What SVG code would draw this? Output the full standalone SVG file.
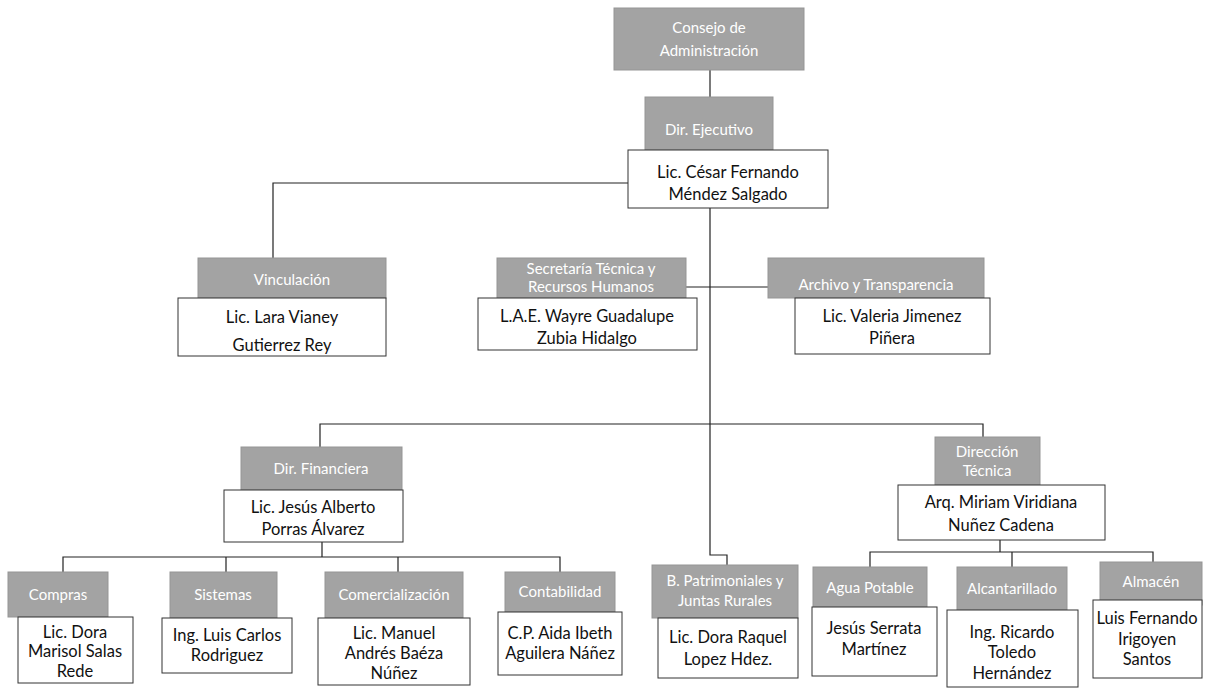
<svg xmlns="http://www.w3.org/2000/svg" width="1208" height="688" viewBox="0 0 1208 688">
<style>
.g{fill:#a3a3a3;stroke:#959595;stroke-width:1}
.w{fill:#fff;stroke:#333;stroke-width:1}
.gt{font-family:Lato,"Liberation Sans",sans-serif;fill:#fff;text-anchor:middle;font-size:15px}
.wt{font-family:Lato,"Liberation Sans",sans-serif;fill:#111;text-anchor:middle;font-size:16.5px}
.c{fill:none;stroke:#222;stroke-width:1.2}
</style>
<rect width="1208" height="688" fill="#fff"/>
<g id="connectors">
<path class="c" d="M710,70 V97"/>
<path class="c" d="M628,183 H273 V258"/>
<path class="c" d="M710,208 V555 H727 V565"/>
<path class="c" d="M686,287 H768"/>
<path class="c" d="M320,447 V424 H983 V437"/>
<path class="c" d="M322,542 V557 M63,572 V557 H560 V572 M226,557 V572 M398,557 V572"/>
<path class="c" d="M1000,540 V552 M870,567 V552 H1153 V562 M1012,552 V567"/>
</g>
<g id="consejo">
<rect class="g" x="614" y="8" width="190" height="62"/>
<text class="gt" x="709" y="33" font-size="17">Consejo de</text>
<text class="gt" x="709" y="56" font-size="17">Administración</text>
</g>
<g id="dir-ejecutivo">
<rect class="g" x="645" y="97" width="128" height="53"/>
<text class="gt" x="709" y="135">Dir. Ejecutivo</text>
<rect class="w" x="628" y="150" width="200" height="58"/>
<text class="wt" x="728" y="178" font-size="16">Lic. César Fernando</text>
<text class="wt" x="728" y="200" font-size="16">Méndez Salgado</text>
</g>
<g id="vinculacion">
<rect class="g" x="198" y="258" width="188" height="40"/>
<text class="gt" x="292" y="285" font-size="18">Vinculación</text>
<rect class="w" x="178" y="298" width="208" height="58"/>
<text class="wt" x="282" y="323" font-size="18.5">Lic. Lara Vianey</text>
<text class="wt" x="282" y="351" font-size="18.5">Gutierrez Rey</text>
</g>
<g id="secretaria">
<rect class="g" x="497" y="258" width="189" height="40"/>
<text class="gt" x="591" y="274" font-size="14">Secretaría Técnica y</text>
<text class="gt" x="591" y="292" font-size="14">Recursos Humanos</text>
<rect class="w" x="478" y="298" width="219" height="52"/>
<text class="wt" x="587" y="322" font-size="18.5">L.A.E. Wayre Guadalupe</text>
<text class="wt" x="587" y="344" font-size="18.5">Zubia Hidalgo</text>
</g>
<g id="archivo">
<rect class="g" x="768" y="258" width="216" height="40"/>
<text class="gt" x="876" y="290">Archivo y Transparencia</text>
<rect class="w" x="795" y="298" width="195" height="56"/>
<text class="wt" x="892" y="322" font-size="17">Lic. Valeria Jimenez</text>
<text class="wt" x="892" y="344" font-size="17">Piñera</text>
</g>
<g id="dir-financiera">
<rect class="g" x="241" y="447" width="161" height="43"/>
<text class="gt" x="321" y="474">Dir. Financiera</text>
<rect class="w" x="224" y="490" width="179" height="52"/>
<text class="wt" x="313" y="513" font-size="18">Lic. Jesús Alberto</text>
<text class="wt" x="313" y="535" font-size="18">Porras Álvarez</text>
</g>
<g id="dir-tecnica">
<rect class="g" x="935" y="437" width="105" height="48"/>
<text class="gt" x="987" y="457" font-size="13">Dirección</text>
<text class="gt" x="987" y="476" font-size="13">Técnica</text>
<rect class="w" x="898" y="485" width="207" height="55"/>
<text class="wt" x="1001" y="508" font-size="18">Arq. Miriam Viridiana</text>
<text class="wt" x="1001" y="531" font-size="18">Nuñez Cadena</text>
</g>
<g id="compras">
<rect class="g" x="8" y="572" width="100" height="45"/>
<text class="gt" x="58" y="600">Compras</text>
<rect class="w" x="18" y="617" width="115" height="66"/>
<text class="wt" x="75" y="638">Lic. Dora</text>
<text class="wt" x="75" y="657">Marisol Salas</text>
<text class="wt" x="75" y="677">Rede</text>
</g>
<g id="sistemas">
<rect class="g" x="170" y="572" width="107" height="46"/>
<text class="gt" x="223" y="600">Sistemas</text>
<rect class="w" x="162" y="618" width="130" height="55"/>
<text class="wt" x="227" y="641">Ing. Luis Carlos</text>
<text class="wt" x="227" y="661">Rodriguez</text>
</g>
<g id="comercializacion">
<rect class="g" x="325" y="572" width="138" height="46"/>
<text class="gt" x="394" y="600">Comercialización</text>
<rect class="w" x="318" y="618" width="152" height="67"/>
<text class="wt" x="394" y="639">Lic. Manuel</text>
<text class="wt" x="394" y="659">Andrés Baéza</text>
<text class="wt" x="394" y="679">Núñez</text>
</g>
<g id="contabilidad">
<rect class="g" x="505" y="572" width="110" height="40"/>
<text class="gt" x="560" y="597" font-size="14">Contabilidad</text>
<rect class="w" x="498" y="612" width="124" height="63"/>
<text class="wt" x="560" y="639">C.P. Aida Ibeth</text>
<text class="wt" x="560" y="659">Aguilera Náñez</text>
</g>
<g id="patrimoniales">
<rect class="g" x="652" y="565" width="146" height="53"/>
<text class="gt" x="725" y="586" font-size="14">B. Patrimoniales y</text>
<text class="gt" x="725" y="606" font-size="14">Juntas Rurales</text>
<rect class="w" x="658" y="618" width="140" height="60"/>
<text class="wt" x="728" y="643">Lic. Dora Raquel</text>
<text class="wt" x="728" y="665">Lopez Hdez.</text>
</g>
<g id="agua">
<rect class="g" x="813" y="567" width="114" height="41"/>
<text class="gt" x="870" y="593" font-size="14">Agua Potable</text>
<rect class="w" x="812" y="607" width="125" height="69"/>
<text class="wt" x="874" y="634">Jesús Serrata</text>
<text class="wt" x="874" y="655">Martínez</text>
</g>
<g id="alcantarillado">
<rect class="g" x="957" y="567" width="110" height="43"/>
<text class="gt" x="1012" y="594" font-size="14">Alcantarillado</text>
<rect class="w" x="947" y="610" width="131" height="77"/>
<text class="wt" x="1012" y="638">Ing. Ricardo</text>
<text class="wt" x="1012" y="658">Toledo</text>
<text class="wt" x="1012" y="679">Hernández</text>
</g>
<g id="almacen">
<rect class="g" x="1100" y="562" width="102" height="43"/>
<text class="gt" x="1151" y="587" font-size="14">Almacén</text>
<rect class="w" x="1093" y="600" width="109" height="78"/>
<text class="wt" x="1147" y="624">Luis Fernando</text>
<text class="wt" x="1147" y="645">Irigoyen</text>
<text class="wt" x="1147" y="665">Santos</text>
</g>
</svg>
